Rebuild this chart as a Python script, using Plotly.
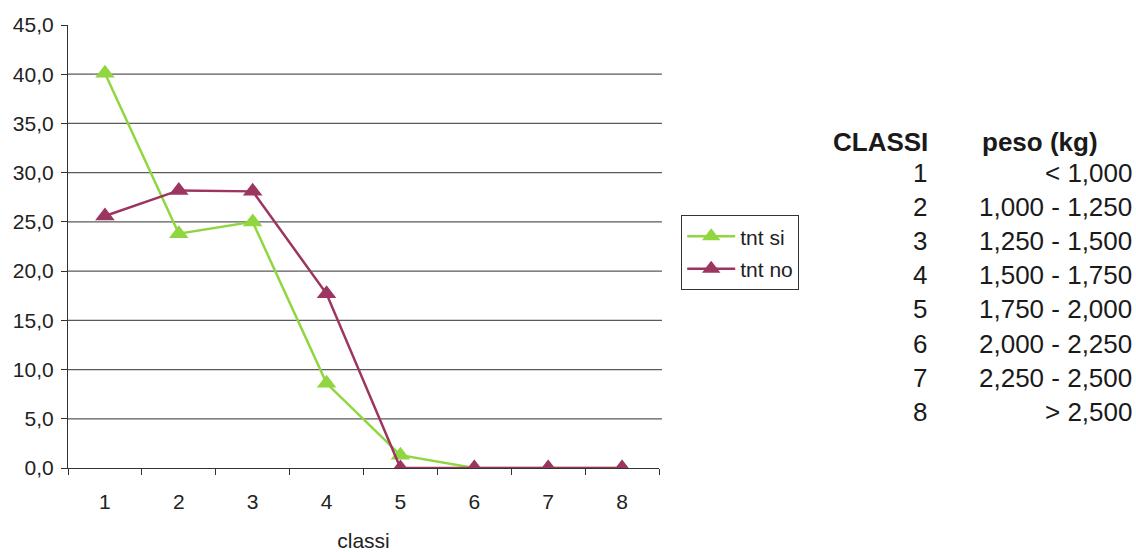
import plotly.graph_objects as go

classes = ["1", "2", "3", "4", "5", "6", "7", "8"]
tnt_si = [40.1, 23.8, 25.0, 8.6, 1.3, 0.0, 0.0, 0.0]
tnt_no = [25.6, 28.2, 28.1, 17.7, 0.0, 0.0, 0.0, 0.0]
y_ticks = [0, 5, 10, 15, 20, 25, 30, 35, 40, 45]
grid_vals = [5, 10, 15, 20, 25, 30, 35, 40]

table_classes = ["1", "2", "3", "4", "5", "6", "7", "8"]
table_weights = ["< 1,000", "1,000 - 1,250", "1,250 - 1,500", "1,500 - 1,750",
                 "1,750 - 2,000", "2,000 - 2,250", "2,250 - 2,500", "> 2,500"]

GREEN = "#8fd640"
MAROON = "#9c3560"
FONT = "Liberation Sans, Arial, sans-serif"

# plot area in pixels
L, R, T, B = 68, 659, 25, 468
W, H = 1136, 552

def px(xp):
    return (xp - L) / (R - L)

def py(yp):
    return (B - yp) / (B - T)

fig = go.Figure()
fig.add_trace(go.Scatter(
    x=classes, y=tnt_si, name="tnt si", mode="lines+markers",
    line=dict(color=GREEN, width=2.5),
    marker=dict(symbol="triangle-up", size=17, color=GREEN),
    legendgroup="a",
))
fig.add_trace(go.Scatter(
    x=classes, y=tnt_no, name="tnt no", mode="lines+markers",
    line=dict(color=MAROON, width=2.5),
    marker=dict(symbol="triangle-up", size=17, color=MAROON),
    legendgroup="b",
))

shapes = []
for g in grid_vals:
    shapes.append(dict(type="line", xref="paper", yref="y", x0=0, x1=1.005,
                       y0=g, y1=g, line=dict(color="#5a5a5a", width=1.2),
                       layer="below"))

annotations = []
TF = dict(family=FONT, size=26, color="#1a1a1a")
annotations.append(dict(text="<b>CLASSI</b>", x=px(930), y=py(142), xref="paper", yref="paper",
                        xanchor="right", yanchor="middle", showarrow=False, font=TF))
annotations.append(dict(text="<b>peso (kg)</b>", x=px(1100), y=py(142), xref="paper", yref="paper",
                        xanchor="right", yanchor="middle", showarrow=False, font=TF))
for i, (c, w) in enumerate(zip(table_classes, table_weights)):
    yy = 173 + 34.1 * i
    annotations.append(dict(text=c, x=px(929), y=py(yy), xref="paper", yref="paper",
                            xanchor="right", yanchor="middle", showarrow=False, font=TF))
    annotations.append(dict(text=w, x=px(1134), y=py(yy), xref="paper", yref="paper",
                            xanchor="right", yanchor="middle", showarrow=False, font=TF))

fig.update_layout(
    width=W, height=H,
    margin=dict(l=L, r=W - R, t=T, b=H - B, pad=0, autoexpand=False),
    paper_bgcolor="white", plot_bgcolor="white",
    separators=",.",
    font=dict(family=FONT, size=21, color="#222222"),
    showlegend=True,
    legend=dict(
        x=px(681), y=py(215), xanchor="left", yanchor="top",
        bordercolor="#333333", borderwidth=1.2, bgcolor="white",
        font=dict(family=FONT, size=21, color="#222222"),
        tracegroupgap=2, itemwidth=48,
    ),
    xaxis=dict(
        type="category", range=[-0.5, 7.5], automargin=False,
        showline=True, linecolor="#333333", linewidth=1.2,
        ticks="outside", tickson="boundaries", ticklen=6, tickcolor="#333333",
        showgrid=False, zeroline=False,
        title=dict(text="classi", font=dict(size=21), standoff=32),
        tickfont=dict(size=21), ticklabelstandoff=15,
    ),
    yaxis=dict(
        range=[0, 45], tickvals=y_ticks, tickformat=".1f", automargin=False,
        showline=True, linecolor="#333333", linewidth=1.2,
        ticks="outside", ticklen=6, tickcolor="#333333",
        showgrid=False, zeroline=False,
        tickfont=dict(size=21), ticklabelstandoff=3,
    ),
    shapes=shapes,
    annotations=annotations,
)

fig.write_html("out.html")
